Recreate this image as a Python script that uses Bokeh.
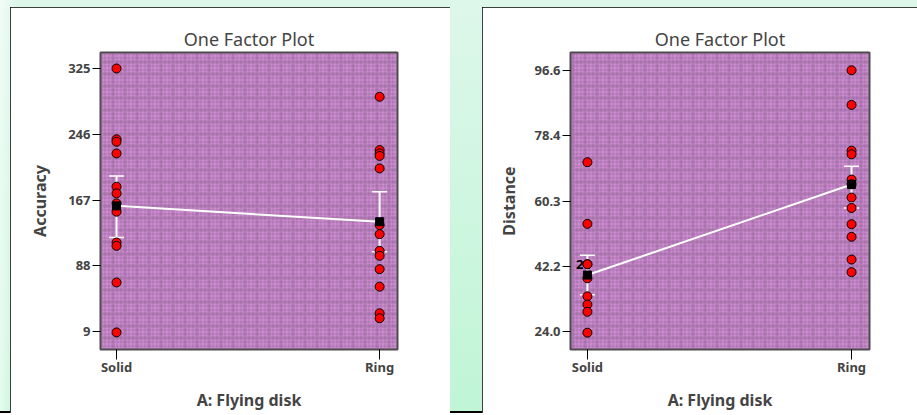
from bokeh.plotting import figure
from bokeh.models import (ColumnDataSource, Range1d, FixedTicker, Whisker, TeeHead,
                          BoxAnnotation, Spacer)
from bokeh.layouts import row, column
from bokeh.core.properties import value
from bokeh.embed import file_html
from bokeh.resources import INLINE

# ---------------- data ----------------
categories = ["Solid", "Ring"]
factor_label = "A: Flying disk"

# Accuracy panel
acc_solid = [325, 240, 237, 223, 183, 175, 163, 153, 116, 112, 68, 8]
acc_ring = [291, 227, 223, 220, 205, 137, 126, 106, 100, 84, 63, 31, 25]
acc_means = [160, 141]
acc_lower = [122, 105]
acc_upper = [196, 177]
acc_ticks = [9, 88, 167, 246, 325]
acc_tick_labels = ["9", "88", "167", "246", "325"]

# Distance panel
dist_solid = [71.1, 54.0, 42.8, 42.8, 38.9, 33.9, 31.6, 29.6, 23.8]
dist_ring = [96.6, 87.0, 74.3, 73.3, 66.3, 65.0, 61.3, 58.4, 53.9, 50.4, 44.1, 40.6]
dist_means = [39.8, 64.9]
dist_lower = [34.3, 58.4]
dist_upper = [45.3, 70.0]
dist_ticks = [24.0, 42.15, 60.3, 78.45, 96.6]
dist_tick_labels = ["24.0", "42.2", "60.3", "78.4", "96.6"]
dist_count_value = [42.8]
dist_count_label = ["2"]

FONT = "Noto Sans"


def make_panel(ylabel, solid, ring, means, lower, upper, ticks, tick_labels,
               xr, yr, width, b_left, b_right, b_bottom, ylabel_standoff):
    p = figure(width=width, height=406, x_range=Range1d(*xr), y_range=Range1d(*yr),
               output_backend="svg", toolbar_location=None,
               min_border_left=b_left, min_border_right=b_right,
               min_border_top=45, min_border_bottom=b_bottom,
               background_fill_color="#d08ad3", border_fill_color="white",
               outline_line_color="#4a4a4a", outline_line_width=2)
    p.xgrid.visible = False
    p.ygrid.visible = False

    # textured plot background (fine + coarse weave)
    fine = BoxAnnotation(fill_alpha=0, line_alpha=0, hatch_pattern="+",
                         hatch_color="#85658a", hatch_alpha=0.45, hatch_scale=4,
                         hatch_weight=1, level="image")
    coarse = BoxAnnotation(fill_alpha=0, line_alpha=0, hatch_pattern="+",
                           hatch_color="#6f5573", hatch_alpha=0.18, hatch_scale=12,
                           hatch_weight=4, level="image")
    p.add_layout(fine)
    p.add_layout(coarse)

    p.title.text = "One Factor Plot"
    p.title.align = "center"
    p.title.text_font = FONT
    p.title.text_font_size = "18px"
    p.title.text_font_style = "normal"
    p.title.standoff = 3

    # x axis
    xa = p.xaxis[0]
    xa.ticker = FixedTicker(ticks=list(range(len(categories))))
    xa.major_label_overrides = {i: c for i, c in enumerate(categories)}
    xa.axis_label = factor_label
    xa.minor_tick_line_color = None
    xa.major_tick_in = 0
    xa.major_tick_out = 10
    xa.major_label_standoff = -2
    xa.axis_line_color = None
    xa.major_label_text_font = FONT
    xa.major_label_text_font_style = "bold"
    xa.major_label_text_font_size = "13px"
    xa.axis_label_text_font = FONT
    xa.axis_label_text_font_style = "bold"
    xa.axis_label_text_font_size = "16px"
    xa.axis_label_standoff = 10

    # y axis
    ya = p.yaxis[0]
    ya.ticker = FixedTicker(ticks=ticks)
    ya.major_label_overrides = {t: l for t, l in zip(ticks, tick_labels)}
    ya.axis_label = ylabel
    ya.minor_tick_line_color = None
    ya.major_tick_in = 0
    ya.major_tick_out = 8
    ya.major_label_standoff = 2
    ya.axis_line_color = None
    ya.major_label_text_font = FONT
    ya.major_label_text_font_style = "bold"
    ya.major_label_text_font_size = "13px"
    ya.axis_label_text_font = FONT
    ya.axis_label_text_font_style = "bold"
    ya.axis_label_text_font_size = "16px"
    ya.axis_label_standoff = ylabel_standoff

    # LSD error bars
    xs = list(range(len(categories)))
    bars = ColumnDataSource(dict(x=xs, lower=lower, upper=upper))
    w = Whisker(source=bars, base="x", lower="lower", upper="upper",
                line_color="white", line_width=2, level="underlay",
                upper_head=TeeHead(size=15, line_color="white", line_width=1.5),
                lower_head=TeeHead(size=15, line_color="white", line_width=1.5))
    p.add_layout(w)

    # mean line
    p.line(xs, means, line_color="white", line_width=2)

    # design points
    px = [0] * len(solid) + [1] * len(ring)
    py = list(solid) + list(ring)
    p.scatter(px, py, marker="circle", size=9, fill_color="#ff0000",
              line_color="black", line_width=1)

    # means
    p.scatter(xs, means, marker="square", size=8, fill_color="black",
              line_color="black")
    return p


left = make_panel("Accuracy", acc_solid, acc_ring, acc_means, acc_lower, acc_upper,
                  acc_ticks, acc_tick_labels, (-0.061, 1.068), (-12.5, 344.2),
                  440, 90, 53, 63, 14)
right = make_panel("Distance", dist_solid, dist_ring, dist_means, dist_lower, dist_upper,
                   dist_ticks, dist_tick_labels, (-0.064, 1.068), (19.14, 101.54),
                   435, 88, 48, 61, 12)
right.text([0] * len(dist_count_value), dist_count_value, text=dist_count_label,
           text_align="right", text_baseline="middle", x_offset=-4,
           text_font=value(FONT), text_font_style="bold", text_font_size="13px",
           text_color="black")

panel_style = {"outline": "2px solid #000", "outline-offset": "-2px"}
left.styles = panel_style
right.styles = dict(panel_style)

body = row(Spacer(width=10, height=406), left, Spacer(width=32, height=406), right)
page = column(Spacer(width=917, height=7), body, Spacer(width=917, height=2),
              styles={
                  "position": "absolute", "left": "0px", "top": "0px",
                  "background": ("linear-gradient(to top, #ffffff 0px, #ffffff 2px, #000000 2px, "
                                 "#000000 4px, rgba(0,0,0,0) 4px), "
                                 "linear-gradient(to right, rgba(255,255,255,0.6) 0px, "
                                 "rgba(255,255,255,0) 16px), "
                                 "linear-gradient(to bottom, #ddf7ea 0%, #c0f5d6 100%)"),
              })

open("out.html", "w").write(file_html(page, INLINE))
